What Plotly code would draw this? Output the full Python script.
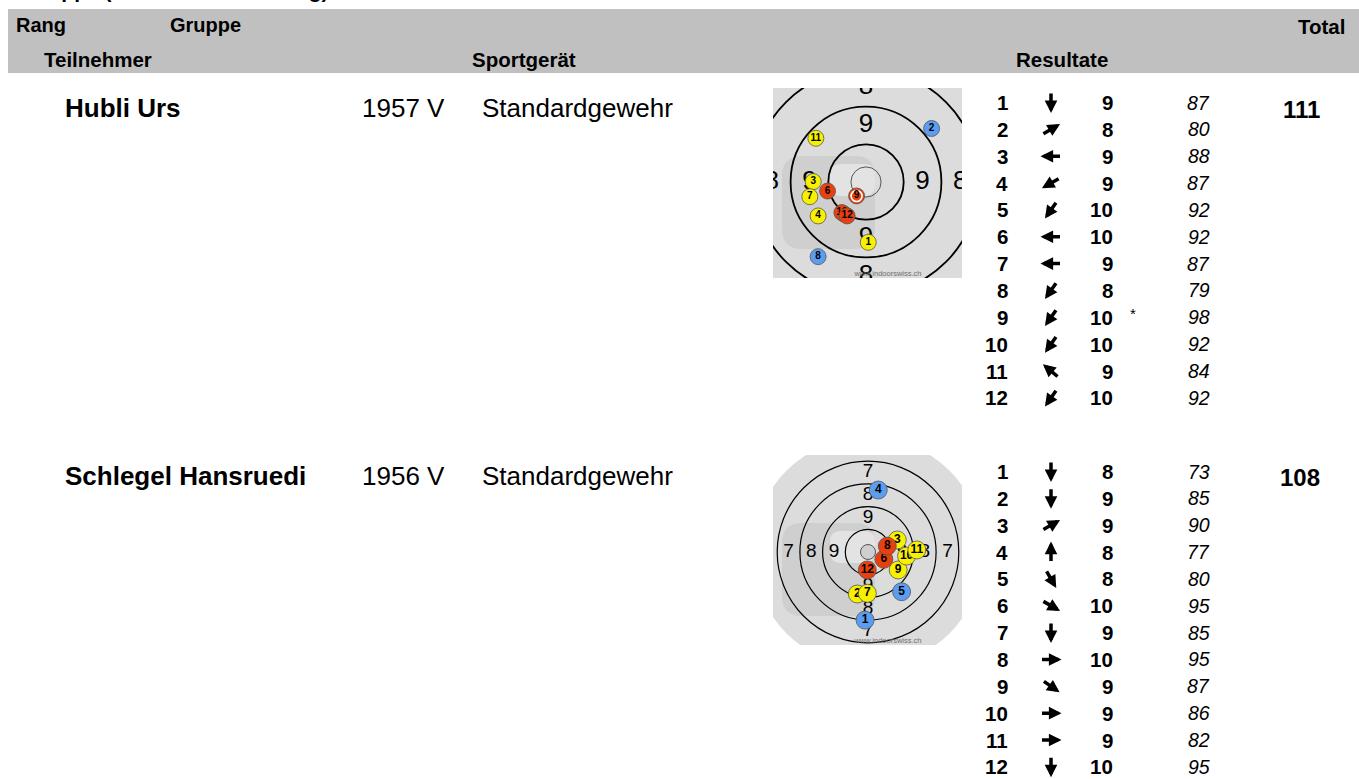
import math
import plotly.graph_objects as go

W, H = 1359, 779
FONT = "Liberation Sans, Arial, sans-serif"

# ---------------- data ----------------
title_text = "Gruppe (Mannschaftswertung)"
header_top = ["Rang", "Gruppe", "Total"]
header_bottom = ["Teilnehmer", "Sportgerät", "Resultate"]

participants = ["Hubli Urs", "Schlegel Hansruedi"]
birth_years = ["1957 V", "1956 V"]
devices = ["Standardgewehr", "Standardgewehr"]
totals = [111, 108]

shot_numbers = [1, 2, 3, 4, 5, 6, 7, 8, 9, 10, 11, 12]

# participant 1
p1_scores = [9, 8, 9, 9, 10, 10, 9, 8, 10, 10, 9, 10]
p1_values = [87, 80, 88, 87, 92, 92, 87, 79, 98, 92, 84, 92]
p1_dirs = [270, 30, 180, 210, 235, 180, 180, 235, 235, 235, 140, 235]   # arrow direction, degrees
p1_star = [False, False, False, False, False, False, False, False, True, False, False, False]
p1_x = [0.06, 1.74, -1.40, -1.27, -0.58, -1.02, -1.49, -1.27, -0.25, -0.64, -1.33, -0.50]  # ring units
p1_y = [-1.60, 1.42, 0.01, -0.90, -0.85, -0.24, -0.39, -1.98, -0.37, -0.81, 1.16, -0.90]

# participant 2
p2_scores = [8, 9, 9, 8, 8, 10, 9, 10, 9, 9, 9, 10]
p2_values = [73, 85, 90, 77, 80, 95, 85, 95, 87, 86, 82, 95]
p2_dirs = [270, 270, 30, 90, 300, 330, 270, 0, 325, 0, 0, 270]
p2_star = [False] * 12
p2_x = [-0.13, -0.47, 1.29, 0.45, 1.48, 0.70, -0.03, 0.85, 1.33, 1.70, 2.15, -0.03]
p2_y = [-3.00, -1.85, 0.53, 2.73, -1.75, -0.32, -1.82, 0.26, -0.79, -0.18, 0.09, -0.79]

ring_radii = [1, 2, 3, 4]
zone_labels = [9, 8, 7]
face_radius = 5.07
watermark_text = "www.indoorswiss.ch"

players = [
    dict(scores=p1_scores, values=p1_values, dirs=p1_dirs, star=p1_star, x=p1_x, y=p1_y),
    dict(scores=p2_scores, values=p2_values, dirs=p2_dirs, star=p2_star, x=p2_x, y=p2_y),
]

# ---------------- layout / style ----------------
targets = [
    dict(box=(773, 88, 962, 278), cx=866, cy=182, unit=37.7, lab=26, lw=1.8,
         inner=0.40, inner_fill="rgba(0,0,0,0)", shot=16, shot_font=10),
    dict(box=(773, 455, 962, 645), cx=868, cy=552, unit=22.7, lab=19, lw=1.2,
         inner=0.33, inner_fill="#CFCFCF", shot=18, shot_font=12),
]
row_y = [108, 476]
res_y0 = [102.5, 471.5]
res_dy = 26.85
shot_colors = {10: "#E8400F", 9: "#F7F000", 8: "#5B9DF0"}

fig = go.Figure()
shapes = []
ann = []

layout = dict(
    width=W, height=H, margin=dict(l=0, r=0, t=0, b=0),
    paper_bgcolor="white", plot_bgcolor="rgba(0,0,0,0)", showlegend=False,
    xaxis=dict(range=[0, W], domain=[0, 1], visible=False, fixedrange=True),
    yaxis=dict(range=[H, 0], domain=[0, 1], visible=False, fixedrange=True),
)

# header band
shapes.append(dict(type="rect", xref="x", yref="y", x0=8, x1=W, y0=9, y1=73,
                   fillcolor="#C0C0C0", line=dict(width=0), layer="below"))


def text(x, y, s, size, bold=False, italic=False, xa="left", color="black"):
    t = f"<b>{s}</b>" if bold else s
    if italic:
        t = f"<i>{t}</i>"
    ann.append(dict(x=x, y=y, xref="x", yref="y", text=t, showarrow=False,
                    xanchor=xa, yanchor="middle",
                    font=dict(family=FONT, size=size, color=color)))


# clipped title at top
ann.append(dict(x=22, y=4, xref="x", yref="y", text=f"<b>{title_text}</b>", showarrow=False,
                xanchor="left", yanchor="bottom", font=dict(family=FONT, size=21, color="black")))

text(14, 25, header_top[0], 20, bold=True)
text(168, 25, header_top[1], 20, bold=True)
text(1347, 26, header_top[2], 20.5, bold=True, xa="right")
text(42, 59, header_bottom[0], 20.5, bold=True)
text(470, 59, header_bottom[1], 20.5, bold=True)
text(1014, 59, header_bottom[2], 20.5, bold=True)

for p in range(2):
    y = row_y[p]
    text(63, y, participants[p], 26, bold=True)
    text(360, y, birth_years[p], 26)
    text(480, y, devices[p], 26)
    text(1322, y + 1, str(totals[p]), 24, bold=True, xa="right")
    d = players[p]
    for i in range(12):
        yy = res_y0[p] + i * res_dy
        text(1010, yy, str(shot_numbers[i]), 20.5, bold=True, xa="right")
        text(1115, yy, str(d["scores"][i]), 20.5, bold=True, xa="right")
        text(1212, yy, str(d["values"][i]), 19.5, italic=True, xa="right")
        if d["star"][i]:
            text(1128, yy - 4, "*", 15, xa="left")
        th = math.radians(d["dirs"][i])
        L = 21.0
        cx, cy = 1051, yy
        hx, hy = cx + L / 2 * math.cos(th), cy - L / 2 * math.sin(th)
        ann.append(dict(x=hx, y=hy, xref="x", yref="y", text="", showarrow=True,
                        ax=-L * math.cos(th), ay=L * math.sin(th),
                        arrowhead=2, arrowsize=0.72, arrowwidth=3.5,
                        arrowcolor="black", standoff=0, startstandoff=0))


def rrect(x0, y0, x1, y1, r):
    return (f"M{x0 + r},{y0} L{x1 - r},{y0} Q{x1},{y0} {x1},{y0 + r} L{x1},{y1 - r} "
            f"Q{x1},{y1} {x1 - r},{y1} L{x0 + r},{y1} Q{x0},{y1} {x0},{y1 - r} "
            f"L{x0},{y0 + r} Q{x0},{y0} {x0 + r},{y0} Z")


for k, cfg in enumerate(targets):
    n = k + 2
    xid, yid = f"x{n}", f"y{n}"
    bx0, by0, bx1, by1 = cfg["box"]
    u = cfg["unit"]

    def ux(px):
        return (px - cfg["cx"]) / u

    def uy(py):
        return (cfg["cy"] - py) / u

    layout[f"xaxis{n}"] = dict(domain=[bx0 / W, bx1 / W], range=[ux(bx0), ux(bx1)],
                               anchor=yid, visible=False, fixedrange=True)
    layout[f"yaxis{n}"] = dict(domain=[1 - by1 / H, 1 - by0 / H], range=[uy(by1), uy(by0)],
                               anchor=xid, visible=False, fixedrange=True)

    R = face_radius
    shapes.append(dict(type="circle", xref=xid, yref=yid, x0=-R, x1=R, y0=-R, y1=R,
                       fillcolor="#DCDCDC", line=dict(width=0), layer="below"))
    # watermark logo (fixed in image pixels)
    shapes.append(dict(type="path", xref=xid, yref=yid, layer="below",
                       path=rrect(ux(bx0 + 9), uy(by0 + 161), ux(bx0 + 102), uy(by0 + 68), 20 / u),
                       fillcolor="#CFCFCF", line=dict(width=0)))
    shapes.append(dict(type="path", xref=xid, yref=yid, layer="below",
                       path=rrect(ux(bx0 + 57), uy(by0 + 108), ux(bx0 + 102), uy(by0 + 76), 11 / u),
                       fillcolor="#E3E3E3", line=dict(width=0)))
    for r in ring_radii:
        shapes.append(dict(type="circle", xref=xid, yref=yid, x0=-r, x1=r, y0=-r, y1=r,
                           fillcolor="rgba(0,0,0,0)", line=dict(color="black", width=cfg["lw"]),
                           layer="below"))
    ri = cfg["inner"]
    shapes.append(dict(type="circle", xref=xid, yref=yid, x0=-ri, x1=ri, y0=-ri, y1=ri,
                       fillcolor=cfg["inner_fill"], line=dict(color="#333333", width=0.8),
                       layer="below"))

    # zone labels
    lx, ly, lt = [], [], []
    for v in zone_labels:
        rr = (10 - v) + 0.5
        for (dx, dy) in [(1, 0), (-1, 0), (0, 1), (0, -1)]:
            lx.append(dx * rr)
            ly.append(dy * rr)
            lt.append(str(v))
    fig.add_trace(go.Scatter(x=lx, y=ly, text=lt, mode="text", xaxis=xid, yaxis=yid,
                             textfont=dict(family=FONT, size=cfg["lab"], color="black"),
                             cliponaxis=True, hoverinfo="skip"))
    fig.add_trace(go.Scatter(x=[ux(bx0 + 115)], y=[uy(by1 - 4)], text=[watermark_text], mode="text",
                             xaxis=xid, yaxis=yid, cliponaxis=True, hoverinfo="skip",
                             textfont=dict(family=FONT, size=7.5, color="#6E6E6E")))

    d = players[k]
    for i in range(12):
        col = shot_colors[d["scores"][i]]
        fig.add_trace(go.Scatter(x=[d["x"][i]], y=[d["y"][i]], mode="markers", xaxis=xid, yaxis=yid,
                                 marker=dict(size=cfg["shot"], color=col,
                                             line=dict(color="#555555", width=0.8)),
                                 cliponaxis=True, hoverinfo="skip"))
        if d["star"][i]:
            fig.add_trace(go.Scatter(x=[d["x"][i]], y=[d["y"][i]], mode="markers", xaxis=xid, yaxis=yid,
                                     marker=dict(size=cfg["shot"] - 5, symbol="circle-open",
                                                 color="white", line=dict(color="white", width=1.6)),
                                     cliponaxis=True, hoverinfo="skip"))
        fig.add_trace(go.Scatter(x=[d["x"][i]], y=[d["y"][i]], mode="text", xaxis=xid, yaxis=yid,
                                 text=[f"<b>{shot_numbers[i]}</b>"],
                                 textfont=dict(family=FONT, size=cfg["shot_font"], color="black"),
                                 cliponaxis=True, hoverinfo="skip"))

layout["shapes"] = shapes
layout["annotations"] = ann
fig.update_layout(**layout)
fig.write_html("out.html", config={"displayModeBar": False},
               post_script="document.body.style.margin='0px';")
